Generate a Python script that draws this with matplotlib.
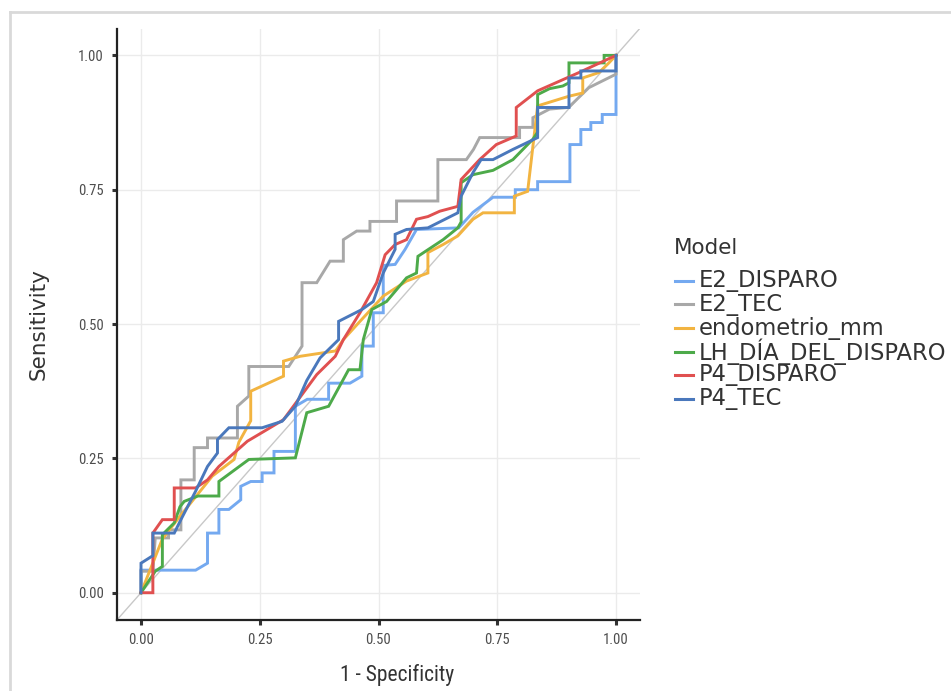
import matplotlib
matplotlib.use("Agg")
import matplotlib.pyplot as plt
from matplotlib.lines import Line2D
from matplotlib import font_manager as fm

# ---------------- data ----------------
models = ["E2_DISPARO", "E2_TEC", "endometrio_mm", "LH_DÍA_DEL_DISPARO", "P4_DISPARO", "P4_TEC"]
colors = ["#74A9F0", "#A8A8A8", "#F2B441", "#4DAA4A", "#E05050", "#4A78BC"]

e2_disparo_fpr = [0, 0, 0.115, 0.14, 0.14, 0.164, 0.164, 0.185, 0.21, 0.21, 0.231, 0.255, 0.255, 0.28, 0.28,
                  0.325, 0.325, 0.35, 0.395, 0.395, 0.44, 0.465, 0.465, 0.489, 0.489, 0.51, 0.51, 0.535,
                  0.556, 0.58, 0.669, 0.699, 0.741, 0.788, 0.788, 0.835, 0.835, 0.903, 0.903, 0.926, 0.926,
                  0.947, 0.947, 0.971, 0.971, 1.0, 1.0]
e2_disparo_tpr = [0, 0.042, 0.042, 0.055, 0.111, 0.111, 0.155, 0.155, 0.173, 0.198, 0.207, 0.207, 0.223, 0.223,
                  0.263, 0.263, 0.347, 0.36, 0.36, 0.39, 0.39, 0.403, 0.459, 0.459, 0.521, 0.521, 0.609, 0.611,
                  0.639, 0.676, 0.679, 0.708, 0.736, 0.736, 0.75, 0.75, 0.765, 0.765, 0.834, 0.834, 0.862,
                  0.862, 0.875, 0.875, 0.89, 0.89, 1.0]

e2_tec_fpr = [0, 0, 0.025, 0.03, 0.058, 0.058, 0.084, 0.084, 0.112, 0.112, 0.14, 0.14, 0.203, 0.203, 0.227,
              0.227, 0.311, 0.339, 0.339, 0.37, 0.398, 0.426, 0.426, 0.454, 0.482, 0.482, 0.538, 0.538, 0.625,
              0.625, 0.685, 0.70, 0.713, 0.797, 0.797, 0.825, 0.825, 0.86, 0.90, 0.943, 1.0, 1.0]
e2_tec_tpr = [0, 0.04, 0.04, 0.102, 0.102, 0.117, 0.117, 0.21, 0.21, 0.27, 0.27, 0.288, 0.288, 0.347, 0.366,
              0.421, 0.421, 0.459, 0.577, 0.577, 0.617, 0.617, 0.657, 0.673, 0.673, 0.691, 0.691, 0.729, 0.729,
              0.806, 0.806, 0.825, 0.847, 0.847, 0.866, 0.866, 0.884, 0.9, 0.903, 0.94, 0.965, 1.0]

endometrio_fpr = [0, 0.045, 0.08, 0.15, 0.196, 0.206, 0.231, 0.231, 0.30, 0.30, 0.335, 0.38, 0.41, 0.426, 0.461,
                  0.51, 0.559, 0.604, 0.604, 0.636, 0.667, 0.699, 0.72, 0.786, 0.786, 0.814, 0.835, 0.901,
                  0.93, 0.93, 0.964, 0.985, 1.0]
endometrio_tpr = [0, 0.10, 0.14, 0.217, 0.248, 0.28, 0.32, 0.375, 0.403, 0.431, 0.44, 0.446, 0.45, 0.471, 0.505,
                  0.552, 0.58, 0.595, 0.633, 0.648, 0.664, 0.695, 0.707, 0.707, 0.738, 0.747, 0.906, 0.924,
                  0.93, 0.958, 0.968, 0.986, 1.0]

lh_fpr = [0, 0.03, 0.045, 0.045, 0.07, 0.082, 0.091, 0.12, 0.164, 0.164, 0.227, 0.325, 0.349, 0.395, 0.437,
          0.461, 0.468, 0.486, 0.517, 0.559, 0.58, 0.583, 0.636, 0.667, 0.674, 0.674, 0.699, 0.741, 0.783,
          0.825, 0.835, 0.835, 0.86, 0.888, 0.901, 0.901, 0.975, 0.975, 1.0]
lh_tpr = [0, 0.04, 0.049, 0.108, 0.13, 0.16, 0.17, 0.18, 0.18, 0.207, 0.248, 0.251, 0.335, 0.347, 0.415,
          0.415, 0.471, 0.527, 0.542, 0.586, 0.595, 0.626, 0.657, 0.679, 0.69, 0.763, 0.778, 0.786, 0.806,
          0.844, 0.857, 0.927, 0.938, 0.943, 0.949, 0.986, 0.986, 1.0, 1.0]

p4_disparo_fpr = [0, 0.025, 0.025, 0.045, 0.07, 0.07, 0.115, 0.14, 0.164, 0.224, 0.266, 0.30, 0.37, 0.409,
                  0.426, 0.461, 0.496, 0.514, 0.535, 0.559, 0.58, 0.604, 0.629, 0.667, 0.674, 0.713, 0.748,
                  0.79, 0.79, 0.835, 0.922, 1.0]
p4_disparo_tpr = [0, 0, 0.111, 0.136, 0.136, 0.195, 0.195, 0.21, 0.235, 0.282, 0.304, 0.322, 0.406, 0.44,
                  0.471, 0.521, 0.577, 0.629, 0.648, 0.657, 0.695, 0.70, 0.71, 0.719, 0.769, 0.806, 0.834,
                  0.85, 0.903, 0.934, 0.968, 1.0]

p4_tec_fpr = [0, 0, 0.025, 0.025, 0.07, 0.084, 0.115, 0.14, 0.161, 0.161, 0.185, 0.255, 0.297, 0.325, 0.349,
              0.377, 0.416, 0.416, 0.465, 0.489, 0.51, 0.535, 0.535, 0.559, 0.604, 0.667, 0.674, 0.699, 0.716,
              0.741, 0.783, 0.835, 0.835, 0.901, 0.901, 0.926, 0.926, 1.0, 1.0]
p4_tec_tpr = [0, 0.055, 0.069, 0.111, 0.111, 0.136, 0.189, 0.235, 0.26, 0.285, 0.307, 0.307, 0.319, 0.347, 0.395,
              0.437, 0.471, 0.505, 0.527, 0.542, 0.595, 0.639, 0.667, 0.676, 0.679, 0.707, 0.738, 0.782, 0.806,
              0.806, 0.825, 0.847, 0.903, 0.903, 0.958, 0.958, 0.971, 0.971, 1.0]

curves = [(e2_disparo_fpr, e2_disparo_tpr), (e2_tec_fpr, e2_tec_tpr), (endometrio_fpr, endometrio_tpr),
          (lh_fpr, lh_tpr), (p4_disparo_fpr, p4_disparo_tpr), (p4_tec_fpr, p4_tec_tpr)]

ticks = [0.0, 0.25, 0.5, 0.75, 1.0]
tick_labels = ["0.00", "0.25", "0.50", "0.75", "1.00"]

# ---------------- fonts ----------------
available = {f.name for f in fm.fontManager.ttflist}
narrow_family = next((n for n in ["Roboto Condensed", "Archivo Narrow", "Barlow Semi Condensed",
                                  "Liberation Sans Narrow", "Liberation Sans"] if n in available), "DejaVu Sans")
narrow = [narrow_family, "DejaVu Sans"]

# ---------------- figure ----------------
W, H = 951, 691
fig = plt.figure(figsize=(W / 100, H / 100), dpi=100)
fig.patch.set_facecolor("white")

ax = fig.add_axes([117.25 / W, 1 - 619.6 / H, 522.5 / W, 591.1 / H])
ax.set_xlim(-0.05, 1.05)
ax.set_ylim(-0.05, 1.05)
ax.set_facecolor("white")

# diagonal reference
ax.plot([-0.05, 1.05], [-0.05, 1.05], color="#C8C8C8", lw=1.0, zorder=1.5)

for (fx, fy), c, m in zip(curves, colors, models):
    ax.plot(fx, fy, color=c, lw=2.1, solid_joinstyle="miter", label=m, zorder=2)

ax.set_xticks(ticks)
ax.set_yticks(ticks)
ax.set_xticklabels(tick_labels, family=narrow, fontsize=10.5, color="#4D4D4D")
ax.set_yticklabels(tick_labels, family=narrow, fontsize=10.5, color="#4D4D4D")
ax.grid(True, color="#EBEBEB", lw=1.0, zorder=0)
ax.set_axisbelow(True)
ax.tick_params(axis="both", length=3.5, width=2.2, color="#333333", pad=6)

for s in ["top", "right"]:
    ax.spines[s].set_visible(False)
for s in ["left", "bottom"]:
    ax.spines[s].set_color("#222222")
    ax.spines[s].set_linewidth(1.6)

fig.text(397 / W, 1 - 675 / H, "1 - Specificity", family=narrow, fontsize=15.5,
         color="#333333", ha="center", va="center")
fig.text(39 / W, 1 - 324 / H, "Sensitivity", family=["DejaVu Sans"], fontsize=15.5,
         color="#333333", ha="center", va="center", rotation=90)

# legend
fig.text(674 / W, 1 - 248 / H, "Model", fontsize=15.5, color="#333333", ha="left", va="center")
y0, dy = 281, 23.5
for i, (m, c) in enumerate(zip(models, colors)):
    yy = 1 - (y0 + i * dy) / H
    fig.add_artist(Line2D([675 / W, 693 / W], [yy, yy], color=c, lw=2.2, transform=fig.transFigure))
    fig.text(699 / W, yy, m, fontsize=16.3, color="#333333", ha="left", va="center")

# outer frame of the screenshot
fig.add_artist(Line2D([10 / W, 1.0], [1 - 12 / H, 1 - 12 / H], color="#D9D9D9", lw=2, transform=fig.transFigure))
fig.add_artist(Line2D([10 / W, 10 / W], [0, 1 - 12 / H], color="#D9D9D9", lw=2, transform=fig.transFigure))

fig.savefig("out.png", dpi=100, facecolor="white")
